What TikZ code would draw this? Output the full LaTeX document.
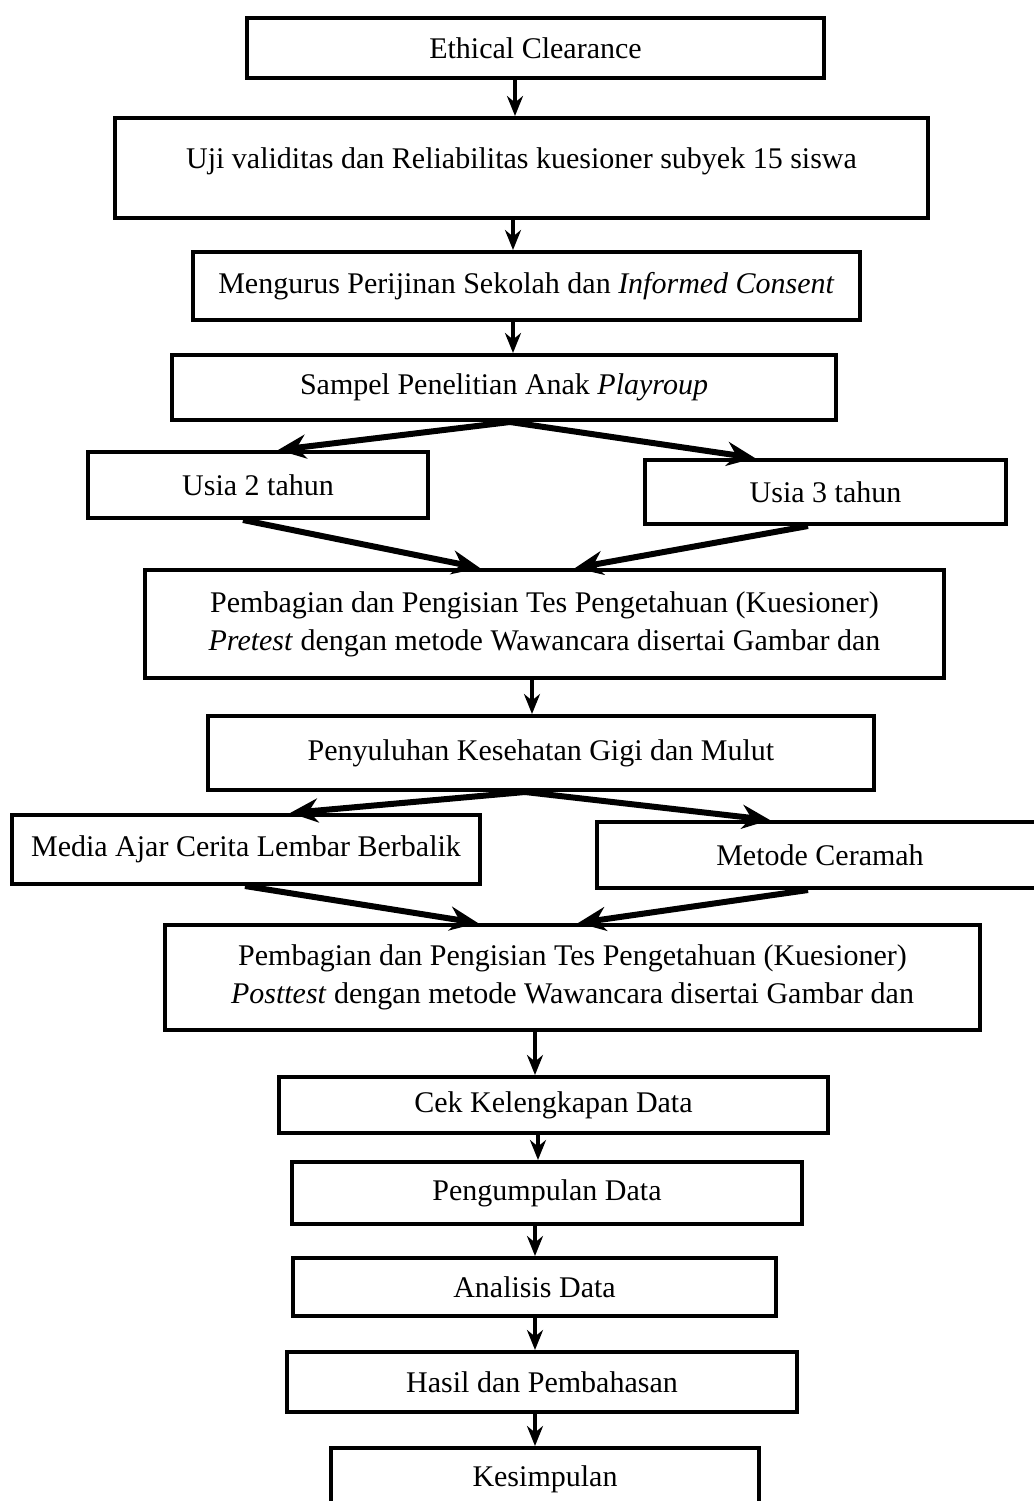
\documentclass[tikz,border=0pt]{standalone}
\usepackage{fontspec}
\setmainfont{Liberation Serif}
\usetikzlibrary{arrows.meta}
\newcommand\vlink[3]{\path (#3,0) coordinate (vx);\draw[varr] (#1.south -| vx) -- (#2.north -| vx);}
\newcommand\dlink[4]{\path (#2,0) coordinate (dpa) (#4,0) coordinate (dpb);\draw[darr] (#1.south -| dpa) -- (#3.north -| dpb);}
\begin{document}
\begin{tikzpicture}[x=0.5pt,y=-0.5pt,
  box/.style={draw, line width=2pt, inner sep=0pt, align=center, font=\fontsize{15}{19}\selectfont},
  varr/.style={-{Stealth[length=10pt,width=8pt]}, line width=1.6pt},
  darr/.style={-{Stealth[length=14pt,width=12pt]}, line width=3pt}]
\useasboundingbox (0,0) rectangle (1034,1501);
\fill[white] (0,0) rectangle (1034,1501);
\node[box, minimum width=288.5pt, minimum height=30pt] (n1) at (535.5,48) {Ethical Clearance};
\node[box, minimum width=406.5pt, minimum height=50pt] (n2) at (521.5,168) {Uji validitas dan Reliabilitas kuesioner subyek 15 siswa\\[-9pt]\mbox{}};
\node[box, minimum width=333.5pt, minimum height=34pt] (n3) at (526.5,286) {Mengurus Perijinan Sekolah dan \textit{Informed Consent}};
\node[box, minimum width=332pt, minimum height=32.5pt] (n4) at (504,387.5) {Sampel Penelitian Anak \textit{Playroup}};
\node[box, minimum width=170pt, minimum height=33pt] (n5) at (258,485) {Usia 2 tahun};
\node[box, minimum width=180.5pt, minimum height=32pt] (n6) at (825.5,492) {Usia 3 tahun};
\node[box, minimum width=399.5pt, minimum height=54pt] (n7) at (544.5,624) {Pembagian dan Pengisian Tes Pengetahuan (Kuesioner)\\\textit{Pretest} dengan metode Wawancara disertai Gambar dan};
\node[box, minimum width=333pt, minimum height=37pt] (n8) at (541,753) {Penyuluhan Kesehatan Gigi dan Mulut};
\node[box, minimum width=234pt, minimum height=34.5pt] (n9) at (246,849.5) {Media Ajar Cerita Lembar Berbalik};
\node[box, minimum width=223pt, minimum height=33pt] (n10) at (820,855) {Metode Ceramah};
\node[box, minimum width=407.5pt, minimum height=52.5pt] (n11) at (572.5,977.5) {Pembagian dan Pengisian Tes Pengetahuan (Kuesioner)\\\textit{Posttest} dengan metode Wawancara disertai Gambar dan};
\node[box, minimum width=274.5pt, minimum height=28pt] (n12) at (553.5,1105) {Cek Kelengkapan Data};
\node[box, minimum width=255pt, minimum height=31pt] (n13) at (547,1193) {Pengumpulan Data};
\node[box, minimum width=241.5pt, minimum height=29pt] (n14) at (534.5,1287) {Analisis Data};
\node[box, minimum width=255pt, minimum height=30pt] (n15) at (542,1382) {Hasil dan Pembahasan};
\node[box, minimum width=214pt, minimum height=31pt] (n16) at (545,1479) {Kesimpulan};
\vlink{n1}{n2}{515}
\vlink{n2}{n3}{513}
\vlink{n3}{n4}{513}
\vlink{n7}{n8}{532}
\vlink{n11}{n12}{535}
\vlink{n12}{n13}{538}
\vlink{n13}{n14}{535}
\vlink{n14}{n15}{535}
\vlink{n15}{n16}{535}
\dlink{n4}{510}{n5}{278}
\dlink{n4}{510}{n6}{755}
\dlink{n5}{243}{n7}{480}
\dlink{n6}{808}{n7}{575}
\dlink{n8}{525}{n9}{290}
\dlink{n8}{525}{n10}{770}
\dlink{n9}{245}{n11}{478}
\dlink{n10}{808}{n11}{578}
\end{tikzpicture}
\end{document}
